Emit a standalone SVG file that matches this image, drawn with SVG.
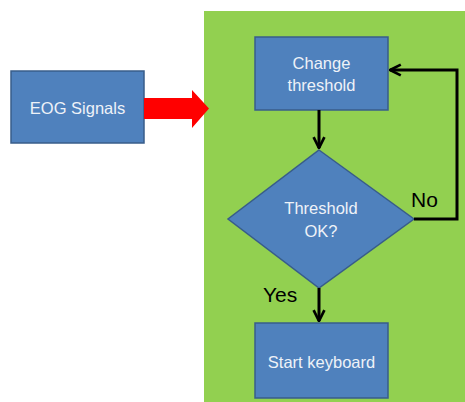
<svg xmlns="http://www.w3.org/2000/svg" width="465" height="402" viewBox="0 0 465 402">
<style>
.box{fill:#4f81bd;stroke:#385d8a;stroke-width:1.5}
.t{font-family:"Liberation Sans",Arial,sans-serif;font-size:16.5px;fill:#eef2f8;text-anchor:middle}
.lbl{font-family:"Liberation Sans",Arial,sans-serif;font-size:21px;fill:#000}
.c{fill:none;stroke:#000;stroke-width:3;marker-end:url(#ah)}
</style>
<defs>
<marker id="ah" viewBox="0 0 10 10" refX="9" refY="5" markerWidth="4.5" markerHeight="4.5" orient="auto" markerUnits="strokeWidth">
<path d="M1,1 L9,5 L1,9" fill="none" stroke="#000" stroke-width="2"/>
</marker>
</defs>
<rect width="465" height="402" fill="#fff"/>
<rect id="panel" x="204" y="11" width="261" height="391" fill="#92d050"/>
<g id="eog">
<rect class="box" x="11" y="71" width="133" height="72"/>
<text class="t" x="77.5" y="114">EOG Signals</text>
</g>
<g id="change">
<rect class="box" x="255" y="37" width="133" height="73"/>
<text class="t" x="321.5" y="69">Change</text>
<text class="t" x="321.5" y="91">threshold</text>
</g>
<g id="decision">
<polygon class="box" points="319,150 414,219 319,288 228,219"/>
<text class="t" x="321" y="214">Threshold</text>
<text class="t" x="321" y="237">OK?</text>
</g>
<g id="start">
<rect class="box" x="255" y="323" width="133" height="75"/>
<text class="t" x="321.5" y="368">Start keyboard</text>
</g>
<g id="connectors">
<polygon points="144,98 192,98 192,90 209,108.5 192,128 192,119 144,119" fill="#ff0000"/>
<path class="c" d="M319,110 L319,148"/>
<path class="c" d="M319,288 L319,321"/>
<path class="c" d="M414,219 L457,219 L457,70 L390,70"/>
<text class="lbl" x="411" y="207">No</text>
<text class="lbl" x="263" y="302">Yes</text>
</g>
</svg>
